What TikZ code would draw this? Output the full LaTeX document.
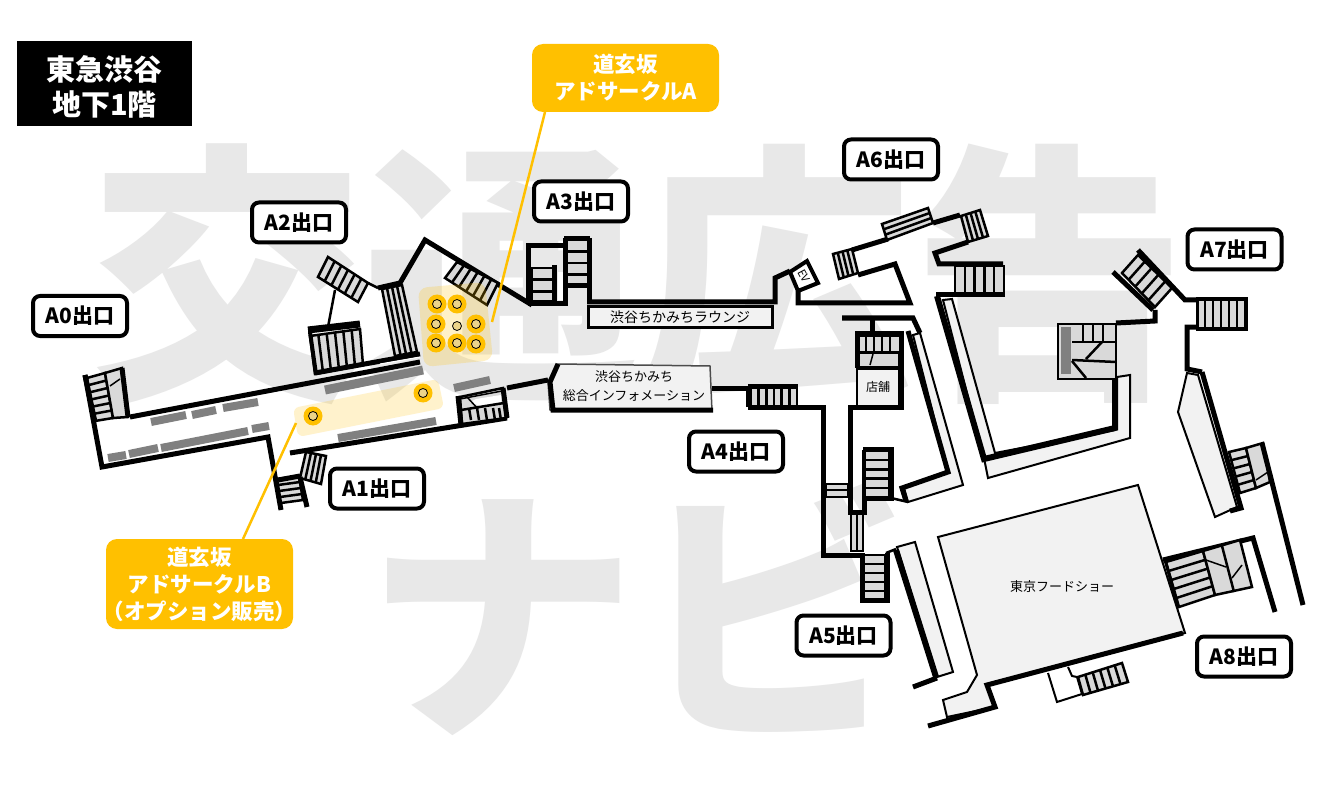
\documentclass[tikz,border=0pt]{standalone}
\usepackage{fontspec}
\setmainfont{Noto Sans CJK JP}
\usetikzlibrary{calc}
\definecolor{adyellow}{HTML}{FFC000}
\definecolor{seatgray}{HTML}{808080}
\definecolor{stairgray}{HTML}{D9D9D9}
\definecolor{roomgray}{HTML}{F2F2F2}
\definecolor{markgray}{HTML}{E8E8E8}
\newcommand{\stairflight}[5]{
  \draw[stairline,fill=stairgray] (#1) -- (#2) -- (#3) -- (#4) -- cycle;
  \pgfmathtruncatemacro{\lastrung}{#5-1}
  \foreach \t [evaluate=\t as \f using \t/#5] in {1,...,\lastrung}
    \draw[stairline] ($(#1)!\f!(#2)$) -- ($(#4)!\f!(#3)$);
}
\begin{document}
\begin{tikzpicture}[x=1pt,y=-1pt,
wall/.style={draw=black,line width=5pt,miter limit=4},
thinwall/.style={draw=black,line width=2.5pt},
stairline/.style={draw=black,line width=2.5pt},
room/.style={draw=black,line width=2pt,fill=roomgray},
seat/.style={draw=seatgray,line width=8pt},
exitlabel/.style={draw=black,line width=4pt,fill=white,rounded corners=7pt,minimum width=94pt,minimum height=40pt,inner sep=0pt,font=\fontsize{21}{24}\selectfont\bfseries},
callout/.style={fill=adyellow,rounded corners=11pt,text=white,align=center,inner sep=0pt,font=\fontsize{21.5}{27}\selectfont\bfseries},
leader/.style={draw=adyellow,line width=2.5pt},
adspot/.style={circle,fill=adyellow,minimum size=19pt,inner sep=0pt},
adcore/.style={circle,draw=black,line width=.8pt,fill=adyellow!45!white!85!gray,minimum size=9pt,inner sep=0pt},
maptext/.style={font=\fontsize{14}{17}\selectfont,align=center,inner sep=0pt}]
\useasboundingbox (0,0) rectangle (1317,794);
\fill[white] (0,0) rectangle (1317,794);
\node (markone) [text=markgray,inner sep=0pt,font=\fontsize{274}{274}\selectfont\bfseries] at (638,274) {交通広告};
\node (marktwo) [text=markgray,inner sep=0pt,font=\fontsize{272}{272}\selectfont\bfseries] at (637,608) {ナビ};

\fill[black] (17,41) rectangle (192,126);
\node (title) [text=white,align=center,inner sep=0pt,font=\fontsize{29}{35}\selectfont\bfseries] at (104.5,87) {東急渋谷\\地下1階};

% west concourse
\draw[wall] (130,417) -- (420,362);
\draw[wall] (85,375) -- (102,467) -- (268,437) -- (281,510);
\draw[wall] (290,453) -- (507,418);
\stairflight{87,378}{95,421}{113,418}{105,373}{6}
\draw[stairline,fill=stairgray] (105,373) -- (122,368) -- (128,417) -- (113,418) -- cycle;
\draw[thinwall,line width=1.5pt] (110,386) -- (120,379);
\draw[wall] (85,375) -- (95,422);
\draw[wall] (122,368) -- (128,417);
\draw[seat] (151,422) -- (186,415);
\draw[seat] (192,415) -- (216,410);
\draw[seat] (223,408) -- (258,402);
\draw[seat] (252,429) -- (269,426);
\draw[seat] (161,448) -- (248,431);
\draw[seat] (129,454) -- (158,448);
\draw[seat] (108,458) -- (126,455);
\draw[seat,line width=9pt] (325,390) -- (423,370);
\draw[seat] (454,388) -- (490,380);
\draw[seat] (338,438) -- (436,421);
\stairflight{300,478}{321,484}{326,456}{306,452}{4}
\stairflight{277,479}{281,503}{303,500}{299,476}{4}
\draw[wall] (300,477) -- (307,507);
\draw[wall] (278,480) -- (300,476);

% north exits
\stairflight{318,277}{358,302}{368,283}{328,257}{6}
\draw[thinwall] (368,283) -- (378,288);
\draw[wall] (378,288) -- (400,283) -- (425,240) -- (532,305);
\draw[thinwall] (335,290) -- (328,327);
\stairflight{310,336}{360,329}{363,365}{315,374}{6}
\draw[wall,line width=4pt] (310,332) -- (316,374);
\draw[wall,line width=7pt] (308,330) -- (360,324);
\draw[wall] (315,373) -- (420,354);
\draw[white,line width=1pt] (380,364) -- (420,357);
\stairflight{382,289}{402,285}{417,352}{395,356}{4}
\stairflight{445,278}{487,305}{498,283}{457,262}{6}

% a3 and lounge
\draw[wall] (528,303) -- (528,246) -- (565,246);
\stairflight{532,268}{532,303}{553,303}{553,268}{3}
\draw[wall] (554,265) -- (554,303) -- (528,303);
\draw[thinwall,white,line width=5pt] (560,272) -- (560,300);
\stairflight{566,240}{566,286}{588,286}{588,240}{4}
\draw[wall] (565,238) -- (565,304) -- (528,304);
\draw[wall] (589,238) -- (589,300);
\draw[wall] (564,239) -- (590,239);
\draw[wall] (564,286) -- (590,286);
\node (lounge) [room,draw,line width=3pt,minimum width=184pt,minimum height=21pt,inner sep=0pt,maptext] at (680,317) {渋谷ちかみちラウンジ};
\draw[wall] (587,302) -- (775,302) -- (775,278) -- (790,271);
\draw[thinwall,line width=4pt,fill=white] (790,272) -- (807,261) -- (818,283) -- (798,291) -- cycle;
\node (ev) [rotate=-62,inner sep=0pt,font=\fontsize{11}{11}\selectfont] at (804,276) {EV};
\draw[wall] (798,291) -- (798,303) -- (910,303) -- (895,264) -- (858,275);
\stairflight{833,254}{852,249}{858,273}{839,279}{4}
\draw[wall] (852,250) -- (888,239);
\stairflight{882,224}{887,240}{933,223}{928,208}{3}
\draw[wall] (933,223) -- (960,215);
\stairflight{961,216}{980,210}{988,236}{968,242}{4}
\draw[wall] (968,242) -- (935,253) -- (939,264) -- (1003,264);
\stairflight{955,266}{1004,266}{1004,295}{955,295}{5}
\draw[wall] (1005,295) -- (936,295);

% info and a4
\filldraw[fill=roomgray,draw=black!70,line width=1.5pt] (558,364) -- (710,366) -- (712,411) -- (550,410) -- (548,382) -- cycle;
\draw[wall] (507,388) -- (548,380);
\draw[wall] (558,364) -- (550,382) -- (553,410) -- (713,410);
\node (info) [maptext,font=\fontsize{13}{19}\selectfont] at (634,386) {渋谷ちかみち\\総合インフォメーション};
\draw[wall] (712,388) -- (750,388);
\stairflight{751,388}{797,388}{797,406}{751,406}{6}
\draw[wall] (748,386) -- (798,386);
\draw[wall] (748,407) -- (823,407) -- (823,555) -- (862,555);
\draw[wall] (748,386) -- (748,407);
\draw[wall] (459,396) -- (462,425);
\draw[stairline,fill=stairgray] (460,397) -- (503,388) -- (506,418) -- (462,424) -- cycle;
\draw[stairline,fill=white,line width=0pt,draw=none] (470,402) -- (476,399) -- (501,395) -- (501,402) -- (480,406) -- cycle;
\draw[stairline,line width=1.5pt] (460,399) -- (502,391);
\draw[stairline] (461,410) -- (504,403);
\foreach \t in {469,477,485,493,499}
  \draw[stairline] (\t,408) -- (\t+2,420);
\draw[stairline,line width=1.5pt] (467,397) -- (478,409);
\draw[wall] (503,388) -- (507,418);
\draw[wall] (458,396) -- (461,425);

% shop
\draw[wall] (842,318) -- (913,318) -- (920,333);
\draw[wall] (872,318) -- (872,333);
\stairflight{858,336}{900,336}{900,352}{858,352}{1}
\foreach \t in {866,874,882,890}
  \draw[stairline] (\t,336) -- (\t,352);
\draw[stairline,fill=stairgray] (858,353) -- (899,353) -- (899,367) -- (858,367) -- cycle;
\draw[stairline,line width=1.5pt] (873,354) -- (870,365);
\node (shop) [room,minimum width=42pt,minimum height=37pt,inner sep=0pt,maptext,font=\fontsize{12}{14}\selectfont] at (878,387) {店舗};
\draw[wall] (848,407) -- (901,407) -- (901,333) -- (857,333) -- (857,368);
\draw[wall] (850,407) -- (850,512) -- (864,512) -- (864,450);

% central stairs
\stairflight{865,451}{865,497}{889,497}{889,451}{5}
\draw[wall] (863,449) -- (891,449) -- (891,498) -- (863,498);
\draw[thinwall] (891,498) -- (908,502);
\draw[stairline,fill=stairgray] (826,484) -- (848,484) -- (848,497) -- (826,497) -- cycle;
\draw[stairline] (826,490) -- (848,490);
\draw[stairline,fill=stairgray] (851,514) -- (863,514) -- (863,551) -- (851,551) -- cycle;
\draw[stairline,line width=1.5pt] (857,514) -- (857,551);
\stairflight{863,555}{863,600}{885,600}{885,555}{5}
\draw[wall] (862,553) -- (862,600) -- (887,600) -- (887,553);
\draw[thinwall] (886,553) -- (896,549);

% long strips
\filldraw[room] (913,335) -- (920,333) -- (963,485) -- (908,502) -- (904,488) -- (948,472) -- cycle;
\draw[wall] (908,331) -- (948,472) -- (902,488) -- (906,501);
\filldraw[room] (943,300) -- (952,299) -- (995,453) -- (1115,430) -- (1117,377) -- (1130,375) -- (1130,438) -- (988,478) -- (985,463) -- cycle;
\draw[wall,line width=6pt] (937,296) -- (984,459) -- (1115,428) -- (1115,378);
\filldraw[room] (897,547) -- (915,542) -- (953,672) -- (937,677) -- cycle;
\draw[wall,line width=6pt] (896,550) -- (936,677);
\draw[wall] (913,687) -- (937,678);

% east block
\draw[thinwall,fill=stairgray] (1058,324) -- (1116,324) -- (1116,379) -- (1058,379) -- cycle;
\draw[seat,line width=10pt] (1066,327) -- (1066,374);
\foreach \t in {1083,1093,1103}
  \draw[stairline] (\t,325) -- (\t,341);
\draw[stairline] (1072,342) -- (1116,342);
\draw[stairline] (1072,360) -- (1116,362);
\draw[stairline] (1102,342) -- (1086,359);
\draw[stairline] (1072,361) -- (1086,378);
\draw[wall] (1116,323) -- (1155,321) -- (1155,310);
\stairflight{1122,273}{1155,307}{1172,288}{1138,255}{5}
\draw[wall] (1113,272) -- (1153,310);
\draw[wall] (1138,250) -- (1185,300) -- (1197,300);
\stairflight{1197,300}{1245,300}{1245,328}{1197,328}{6}
\draw[wall,line width=3pt] (1197,299) rectangle (1246,329);
\draw[wall] (1197,327) -- (1187,327) -- (1187,369) -- (1202,372);
\filldraw[room] (1187,373) -- (1198,375) -- (1237,507) -- (1215,517) -- (1178,412) -- cycle;
\draw[wall] (1202,372) -- (1241,508) -- (1230,511);

\stairflight{1229,452}{1240,493}{1256,488}{1246,448}{5}
\draw[stairline,fill=stairgray] (1246,448) -- (1263,443) -- (1270,482) -- (1256,488) -- cycle;
\draw[stairline,line width=1.5pt] (1256,480) -- (1268,472);
\draw[wall] (1262,443) -- (1303,605);
\draw[wall] (1163,560) -- (1253,538) -- (1275,612);

% food show
\filldraw[room] (938,537) -- (1138,485) -- (1185,633) -- (987,685) -- (995,707) -- (947,717) -- (943,700) -- (967,692) -- (977,675) -- cycle;
\node (foodshow) [maptext,font=\fontsize{13}{16}\selectfont] at (1062,587) {東京フードショー};
\draw[wall] (1183,633) -- (987,685) -- (995,707) -- (928,726);
\stairflight{1166,562}{1179,607}{1215,595}{1203,551}{5}
\draw[stairline,fill=stairgray] (1203,551) -- (1240,540) -- (1252,587) -- (1215,595) -- cycle;
\draw[stairline] (1222,546) -- (1234,592);
\draw[stairline,line width=1.5pt] (1206,560) -- (1226,567);
\draw[stairline,line width=1.5pt] (1232,578) -- (1242,565);
\draw[wall,line width=3pt] (1165,560) -- (1178,607);

\filldraw[white,draw=black,line width=2pt] (1048,673) -- (1057,702) -- (1082,694) -- (1077,677) -- (1072,676) -- (1068,667);
\stairflight{1078,677}{1122,663}{1128,682}{1083,695}{6}

% ad zones
\draw[fill=adyellow,fill opacity=.22,draw=none,rounded corners=9pt] (418,288) -- (485,282) -- (493,360) -- (424,367) -- cycle;
\draw[fill=adyellow!90,fill opacity=.22,draw=none,rounded corners=6pt] (293,408) -- (438,379) -- (444,408) -- (298,437) -- cycle;
\node (spota) [adspot] at (437,304) {};
\node (spotb) [adspot] at (457,304) {};
\node (spotc) [adspot] at (436,324) {};
\node (spotd) [adspot] at (476,324) {};
\node (spote) [adspot] at (436,343) {};
\node (spotf) [adspot] at (457,343) {};
\node (spotg) [adspot] at (476,344) {};
\node (spoth) [adspot] at (313,416) {};
\node (spoti) [adspot] at (423,393) {};
\foreach \spot in {spota,spotb,spotc,spotd,spote,spotf,spotg,spoth,spoti}
  \node [adcore] at (\spot) {};
\node (spotj) [adcore] at (457,326) {};

\node (adb) [callout,minimum width=187pt,minimum height=90pt] at (199.5,584) {道玄坂\\アドサークルB\\\makebox[175pt][c]{（オプション販売）}};
\node (ada) [callout,minimum width=187pt,minimum height=68pt] at (625.5,78) {道玄坂\\アドサークルA};
\coordinate (leadera) at (492,322);
\coordinate (leaderb) at (296,423);
\draw[leader] (adb) ++(43.5,-45) -- (leaderb);
\draw[leader] (ada) ++(-80.5,34) -- (leadera);

\node (exitzero) [exitlabel] at (80,316) {A0出口};
\node (exitone) [exitlabel] at (377,488.5) {A1出口};
\node (exittwo) [exitlabel] at (299,222.5) {A2出口};
\node (exitthree) [exitlabel] at (581,201.5) {A3出口};
\node (exitfour) [exitlabel] at (736,451.5) {A4出口};
\node (exitfive) [exitlabel] at (843.5,635.5) {A5出口};
\node (exitsix) [exitlabel] at (891,159.5) {A6出口};
\node (exitseven) [exitlabel] at (1234.5,249.5) {A7出口};
\node (exiteight) [exitlabel] at (1244,656.5) {A8出口};
\end{tikzpicture}
\end{document}
